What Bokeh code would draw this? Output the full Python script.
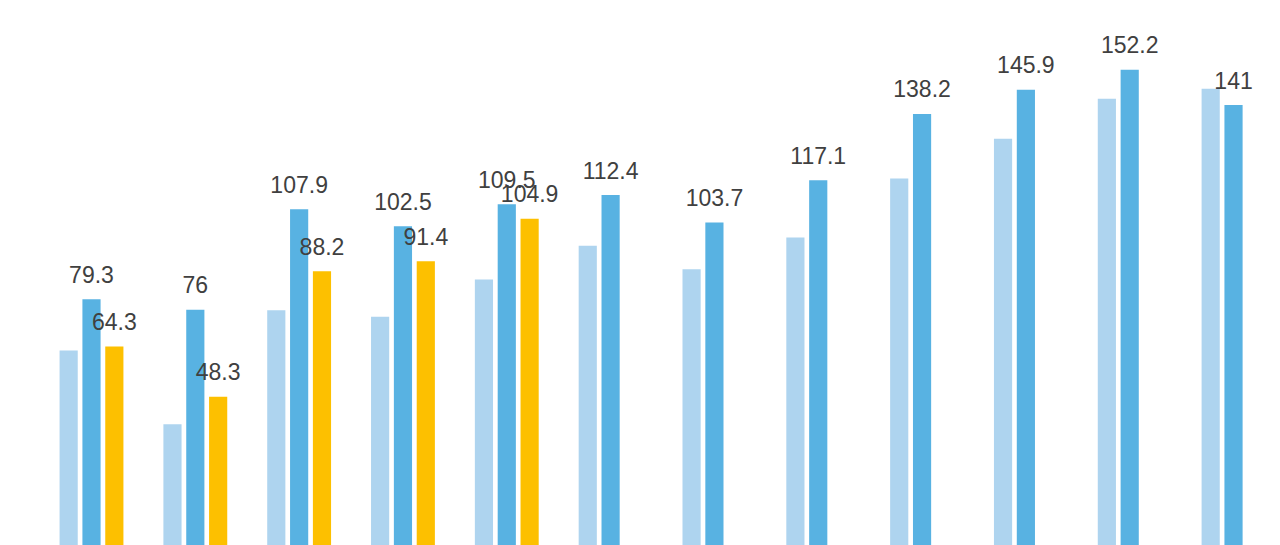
from bokeh.plotting import figure
from bokeh.models import ColumnDataSource, Range1d
from bokeh.core.properties import value
from bokeh.embed import file_html
from bokeh.resources import INLINE

# Data
groups = list(range(12))
light_values = [63.0, 39.6, 75.8, 73.7, 85.6, 96.3, 88.8, 98.9, 117.7, 130.3, 143.0, 146.2]
medium_values = [79.3, 76, 107.9, 102.5, 109.5, 112.4, 103.7, 117.1, 138.2, 145.9, 152.2, 141]
yellow_values = [64.3, 48.3, 88.2, 91.4, 104.9]

LIGHT = "#AED4EF"
MEDIUM = "#58B2E2"
YELLOW = "#FDC000"
TEXT = "#404040"
OFF = 0.22
W = 0.175

def fmt(v):
    return f"{v:g}"

p = figure(width=1280, height=545, output_backend="svg", toolbar_location=None,
           x_range=Range1d(-0.8765, 11.4525),
           y_range=Range1d(1.05, 174.23),
           min_border=0, min_border_left=0, min_border_right=0,
           min_border_top=0, min_border_bottom=0)
p.axis.visible = False
p.grid.visible = False
p.outline_line_color = None
p.background_fill_color = "white"
p.border_fill_color = "white"

light_src = ColumnDataSource(dict(x=[g - OFF for g in groups], top=light_values))
med_src = ColumnDataSource(dict(x=[g for g in groups], top=medium_values,
                                label=[fmt(v) for v in medium_values]))
yel_groups = groups[:len(yellow_values)]
yel_src = ColumnDataSource(dict(x=[g + OFF for g in yel_groups], top=yellow_values,
                                label=[fmt(v) for v in yellow_values]))

p.vbar(x="x", top="top", bottom=0, width=W, source=light_src, fill_color=LIGHT, line_color=None)
p.vbar(x="x", top="top", bottom=0, width=W, source=med_src, fill_color=MEDIUM, line_color=None)
p.vbar(x="x", top="top", bottom=0, width=W, source=yel_src, fill_color=YELLOW, line_color=None)

for src in (med_src, yel_src):
    p.text(x="x", y="top", text="label", source=src, text_align="center",
           text_baseline="alphabetic", y_offset=-25, text_color=TEXT,
           text_font=value("Liberation Sans"), text_font_size="23px")

open("out.html", "w").write(file_html(p, INLINE))
